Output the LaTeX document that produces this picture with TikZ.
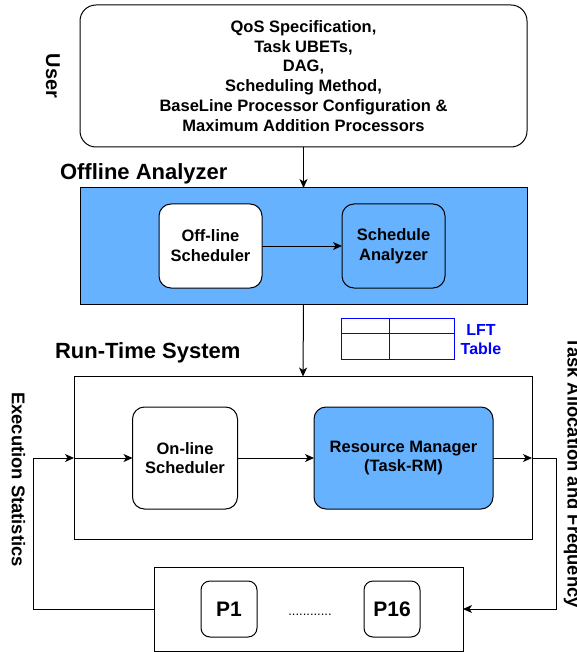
\documentclass[tikz,border=0pt]{standalone}
\usepackage{fontspec}
\setmainfont{Liberation Sans}
\usetikzlibrary{arrows.meta}
\definecolor{boxblue}{HTML}{66B2FF}
\definecolor{lftblue}{HTML}{0000FF}
\newcommand{\fs}[2]{\fontsize{#1}{#2}\selectfont}
\tikzset{
  x=1pt, y=-1pt,
  every node/.style={inner sep=0pt, outer sep=0pt, font=\bfseries},
  frame/.style={draw=black, line width=1pt, rectangle},
  unit/.style={frame, rounded corners=12pt, align=center, font=\bfseries\fs{16.5}{19.8}},
  conn/.style={line width=1pt, -{Stealth[length=9pt,width=8pt,inset=2.5pt]}},
  wire/.style={line width=1pt},
  title/.style={font=\bfseries\fs{22}{26}, anchor=west},
  sidelabel/.style={font=\bfseries\fs{18.4}{22}, rotate=-90, anchor=base},
}
\begin{document}
\begin{tikzpicture}
\useasboundingbox (0,0) rectangle (577,652);

% user input
\node[frame, rounded corners=16pt, minimum width=447pt, minimum height=142pt,
      align=center, font=\bfseries\fs{16.5}{19.8}] (user) at (303.5,76)
  {QoS Specification,\\Task UBETs,\\DAG,\\Scheduling Method,\\BaseLine Processor Configuration \&\\Maximum Addition Processors};
\node[font=\bfseries\fs{20}{24}, rotate=-90, anchor=base] (userlbl) at (46,76) {User};

% offline analyzer
\node[title] (offtitle) at (60,173.5) {Offline Analyzer};
\node[frame, fill=boxblue, minimum width=447pt, minimum height=116pt] (offline) at (303.5,246) {};
\node[unit, fill=white, minimum width=103pt, minimum height=84pt] (offsched) at (210.5,246) {Off-line\\Scheduler};
\node[unit, fill=boxblue, minimum width=103pt, minimum height=84pt] (schedan) at (393.5,246) {Schedule\\Analyzer};
\draw[conn] (offsched.east) -- (schedan.west);

% LFT table
\node[draw=lftblue, line width=1pt, minimum width=113pt, minimum height=41pt] (lft) at (397.5,338.5) {};
\draw[lftblue, line width=1pt] (lft.west |- 0,333) -- (lft.east |- 0,333);
\draw[lftblue, line width=1pt] (lft.north -| 389,0) -- (lft.south -| 389,0);
\node[font=\bfseries\fs{16}{19.5}, text=lftblue, align=center] (lftlbl) at (481,339.5) {LFT\\Table};

% run-time system
\node[title] (rttitle) at (55,352.5) {Run-Time System};
\node[frame, minimum width=458pt, minimum height=163pt] (runtime) at (303,458) {};
\node[unit, fill=white, minimum width=105pt, minimum height=102pt] (onsched) at (185,458) {On-line\\Scheduler};
\node[unit, fill=boxblue, minimum width=179pt, minimum height=102pt] (rm) at (403.5,458) {Resource Manager\\(Task-RM)};

% processors
\node[frame, minimum width=308.5pt, minimum height=84pt] (pbox) at (308.75,609) {};
\node[frame, rounded corners=9pt, minimum width=56pt, minimum height=56pt, font=\bfseries\fs{21}{24}] (p1) at (229,609) {P1};
\node[frame, rounded corners=9pt, minimum width=56pt, minimum height=56pt, font=\bfseries\fs{21}{24}] (p16) at (392,609) {P16};
\node[font=\fs{13}{15}, anchor=base] (dots) at (310,615) {............};

% connectors
\draw[conn] (user.south) -- (offline.north);
\draw[conn] (offline.south) -- (runtime.north);
\coordinate (fbl) at (33.5,458);
\coordinate (fbr) at (556.5,458);
\draw[wire] (pbox.west) -| (fbl);
\draw[conn] (fbl) -- (runtime.west);
\draw[conn] (runtime.west) -- (onsched.west);
\draw[conn] (onsched.east) -- (rm.west);
\draw[conn] (rm.east) -- (runtime.east);
\draw[wire] (runtime.east) -- (fbr);
\draw[conn] (fbr) |- (pbox.east);

% side labels
\node[sidelabel] (execlbl) at (12,479.5) {Execution Statistics};
\node[sidelabel] (tasklbl) at (567.6,472.5) {Task Allocation and Frequency};
\end{tikzpicture}
\end{document}
